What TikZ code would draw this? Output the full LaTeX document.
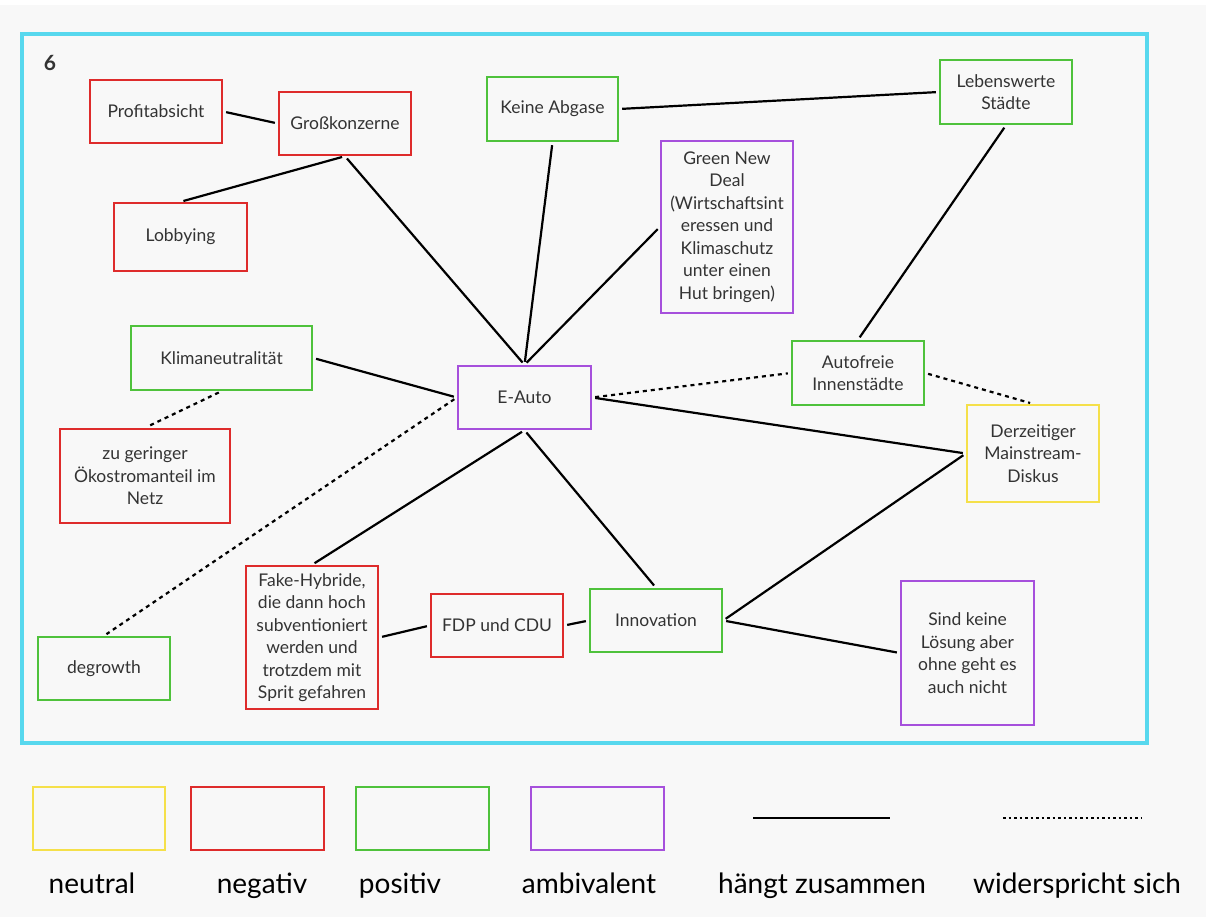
\documentclass[tikz,border=0pt]{standalone}
\usepackage{fontspec}
\setmainfont{Lato}
\definecolor{bgc}{HTML}{F8F8F8}
\definecolor{framec}{HTML}{58D8EE}
\definecolor{negc}{HTML}{DE2B2B}
\definecolor{posc}{HTML}{4FC23C}
\definecolor{ambc}{HTML}{A650DC}
\definecolor{neuc}{HTML}{F5E04A}
\definecolor{txtc}{HTML}{333333}
\tikzset{
  box/.style={draw, line width=2.4pt, fill=bgc, align=center, text=txtc,
    font=\fontsize{17.5}{22.5}\selectfont, inner sep=0pt},
  negbox/.style={box, draw=negc},
  posbox/.style={box, draw=posc},
  ambbox/.style={box, draw=ambc},
  neubox/.style={box, draw=neuc},
  conn/.style={line width=2.2pt, black, shorten <=3pt, shorten >=3pt},
  contra/.style={line width=2.2pt, black, dash pattern=on 4pt off 4pt, shorten <=3pt, shorten >=3pt},
  legtext/.style={font=\fontsize{28}{30}\selectfont, text=black, anchor=base, inner sep=0pt},
}
\begin{document}
\begin{tikzpicture}[x=1pt, y=-1pt]
  % canvas
  \fill[white] (0,0) rectangle (1206,917);
  \fill[bgc] (0,5) rectangle (1206,917);
  \useasboundingbox (0,0) rectangle (1206,917);

  % frame around the map
  \draw[framec, line width=3.5pt] (22,34) rectangle (1147,743);
  \node[font=\fontsize{21}{22}\selectfont\bfseries, text=txtc] (num) at (50,62.5) {6};

  % concepts
  \node[negbox, minimum width=132pt, minimum height=63pt] (pa)  at (156,111.5) {Profitabsicht};
  \node[negbox, minimum width=132pt, minimum height=63pt] (gk)  at (345,123.5) {Großkonzerne};
  \node[negbox, minimum width=133pt, minimum height=68pt] (lb)  at (180.5,237) {Lobbying};
  \node[posbox, minimum width=131pt, minimum height=64pt] (ka)  at (552.5,109) {Keine Abgase};
  \node[ambbox, minimum width=132pt, minimum height=172pt] (gnd) at (727,227)
    {Green New\\Deal\\(Wirtschaftsint\\eressen und\\Klimaschutz\\unter einen\\Hut bringen)};
  \node[posbox, minimum width=132pt, minimum height=64pt] (ls)  at (1006,92) {Lebenswerte\\Städte};
  \node[posbox, minimum width=181pt, minimum height=64pt] (kn)  at (221.5,358) {Klimaneutralität};
  \node[ambbox, minimum width=133pt, minimum height=63pt] (ea)  at (524.5,397.5) {E-Auto};
  \node[posbox, minimum width=132pt, minimum height=64pt] (af)  at (858,373) {Autofreie\\Innenstädte};
  \node[neubox, minimum width=132pt, minimum height=97pt] (dz)  at (1033,453.5) {Derzeitiger\\Mainstream-\\Diskus};
  \node[negbox, minimum width=170pt, minimum height=94pt] (zg)  at (145,476) {zu geringer\\Ökostromanteil im\\Netz};
  \node[negbox, minimum width=132pt, minimum height=143pt] (fh) at (312,637.5)
    {Fake-Hybride,\\die dann hoch\\subventioniert\\werden und\\trotzdem mit\\Sprit gefahren};
  \node[negbox, minimum width=132pt, minimum height=63pt] (fdp) at (497,625.5) {FDP und CDU};
  \node[posbox, minimum width=132pt, minimum height=63pt] (inn) at (656,620.5) {Innovation};
  \node[posbox, minimum width=132pt, minimum height=63pt] (dg)  at (104,668.5) {degrowth};
  \node[ambbox, minimum width=133pt, minimum height=144pt] (sk)  at (967.5,653)
    {Sind keine\\Lösung aber\\ohne geht es\\auch nicht};

  % related concepts
  \draw[conn] (pa.east) -- (gk.west);
  \draw[conn] (gk.south) -- (lb.north);
  \draw[conn] (gk.south) -- (ea.north);
  \draw[conn] (ka.south) -- (ea.north);
  \draw[conn] (gnd.west) -- (ea.north);
  \draw[conn] (ka.east) -- (ls.west);
  \draw[conn] (ls.south) -- (af.north);
  \draw[conn] (kn.east) -- (ea.west);
  \draw[conn] (ea.east) -- (dz.west);
  \draw[conn] (ea.south) -- (fh.north);
  \draw[conn] (ea.south) -- (inn.north);
  \draw[conn] (fh.east) -- (fdp.west);
  \draw[conn] (fdp.east) -- (inn.west);
  \draw[conn] (inn.east) -- (dz.west);
  \draw[conn] (inn.east) -- (sk.west);

  % contradicting concepts
  \draw[contra] (kn.south) -- (zg.north);
  \draw[contra] (ea.west) -- (dg.north);
  \draw[contra] (ea.east) -- (af.west);
  \draw[contra] (af.east) -- (dz.north);

  % legend
  \node[neubox, minimum width=132pt, minimum height=63pt] (lneu) at (99,818.5) {};
  \node[negbox, minimum width=133pt, minimum height=63pt] (lneg) at (257.5,818.5) {};
  \node[posbox, minimum width=133pt, minimum height=63pt] (lpos) at (422.5,818.5) {};
  \node[ambbox, minimum width=133pt, minimum height=63pt] (lamb) at (597.5,818.5) {};
  \coordinate (s1) at (753,818);
  \coordinate (s2) at (890,818);
  \coordinate (d1) at (1003,818);
  \coordinate (d2) at (1141,818);
  \draw[line width=2.4pt] (s1) -- (s2);
  \draw[line width=2pt, dash pattern=on 2.5pt off 3pt] (d1) -- (d2);
  \node[legtext] (tneu) at (92,893) {neutral};
  \node[legtext] (tneg) at (262,893) {negativ};
  \node[legtext] (tpos) at (400,893) {positiv};
  \node[legtext] (tamb) at (589,893) {ambivalent};
  \node[legtext] (tcon) at (822,893) {hängt zusammen};
  \node[legtext] (tcontra) at (1077,893) {widerspricht sich};
\end{tikzpicture}
\end{document}
